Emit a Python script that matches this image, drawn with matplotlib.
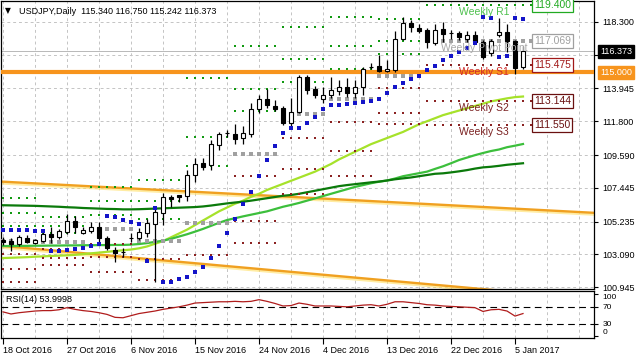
import matplotlib
matplotlib.use("Agg")
import matplotlib.pyplot as plt
import matplotlib.patheffects as pe
import numpy as np

plt.rcParams['font.family'] = ['Liberation Sans', 'DejaVu Sans']

# daily candles, 18 Oct 2016 .. 6 Jan 2017
opens = [104.00, 103.98, 103.76, 104.17, 103.85, 103.98, 104.41, 104.20, 104.57, 105.27,
         104.46, 104.63, 104.86, 104.14, 103.37, 103.25, 104.16, 104.17, 104.46, 105.05,
         105.81, 106.86, 106.97, 106.90, 108.28, 109.07, 108.94, 110.25, 111.00, 110.97,
         110.68, 110.97, 112.58, 113.24, 112.80, 112.65, 111.67, 112.43, 114.68, 113.89,
         113.24, 113.52, 113.80, 114.04, 113.67, 114.04, 115.36, 115.42, 115.09, 115.16,
         117.17, 118.21, 117.89, 117.78, 116.94, 117.82, 117.56, 117.56, 117.19, 117.45,
         117.01, 116.25, 117.45, 117.63, 117.08, 115.340]
highs = [104.25, 104.15, 104.35, 104.35, 104.10, 104.60, 104.90, 104.75, 105.70, 105.60,
         104.85, 105.20, 105.20, 104.30, 103.55, 103.50, 104.50, 104.80, 105.40, 106.10,
         107.10, 107.00, 107.00, 108.60, 109.40, 109.40, 110.60, 111.10, 111.20, 111.60,
         111.50, 113.00, 113.52, 113.89, 113.20, 112.80, 113.32, 114.83, 114.80, 114.10,
         114.06, 114.72, 114.50, 114.61, 114.50, 115.37, 115.60, 116.14, 115.81, 117.70,
         118.60, 118.43, 118.20, 117.89, 118.20, 118.30, 117.80, 117.70, 117.70, 117.70,
         117.10, 117.20, 118.54, 118.17, 117.10, 116.750]
lows = [103.70, 103.30, 103.60, 103.80, 103.75, 103.90, 103.85, 104.10, 104.40, 104.50,
        104.40, 104.50, 103.90, 103.35, 102.60, 102.90, 103.90, 104.00, 104.20, 101.30,
        105.00, 106.20, 106.50, 106.60, 107.80, 108.60, 108.60, 109.90, 110.80, 110.30,
        110.30, 110.80, 112.32, 112.65, 112.50, 111.55, 111.44, 112.34, 113.60, 113.30,
        112.98, 113.30, 113.50, 113.40, 113.30, 113.52, 115.20, 115.05, 115.05, 115.00,
        117.10, 117.67, 117.60, 116.58, 116.80, 117.00, 117.20, 117.10, 117.00, 116.90,
        115.90, 116.10, 117.34, 116.35, 114.90, 115.242]
closes = [103.90, 103.76, 104.20, 103.91, 104.02, 104.41, 104.20, 104.61, 105.27, 104.86,
          104.68, 104.86, 104.14, 103.48, 103.19, 103.24, 104.17, 104.52, 105.12, 105.88,
          106.86, 106.69, 106.86, 108.28, 108.98, 108.78, 110.29, 110.97, 111.02, 110.64,
          111.01, 112.58, 113.24, 112.86, 112.62, 111.67, 112.43, 114.68, 113.85, 113.52,
          113.52, 113.85, 114.04, 113.67, 114.04, 115.22, 115.38, 115.11, 115.22, 117.17,
          118.21, 117.95, 117.73, 117.01, 117.78, 117.51, 117.56, 117.30, 117.45, 117.01,
          116.03, 117.08, 117.63, 117.08, 115.27, 116.373]

# parabolic SAR
sar = [104.70, 104.68, 104.68, 104.68, 104.64, 104.62, 103.30, 103.30, 103.37, 103.41,
       103.52, 103.63, 103.76, 105.61, 105.50, 105.35, 105.20, 105.10, 102.67, 106.10,
       101.30, 101.30, 101.45, 101.60, 101.90, 102.24, 102.86, 103.63, 104.50, 105.40,
       106.36, 107.15, 108.20, 109.26, 110.18, 111.00, 111.34, 111.34, 111.70, 112.10,
       112.60, 112.86, 112.86, 112.90, 113.00, 113.05, 113.15, 113.26, 113.63, 114.02,
       114.30, 114.55, 114.76, 115.16, 115.42, 115.81, 116.10, 116.36, 116.62, 116.94,
       118.65, 118.55, 116.00, 116.05, 118.54, 118.50]

# moving averages
ma_fast = [102.84, 102.86, 102.88, 102.90, 102.93, 102.95, 102.98, 103.00, 103.02, 103.05,
           103.10, 103.15, 103.20, 103.25, 103.30, 103.35, 103.40, 103.48, 103.60, 103.78,
           103.95, 104.20, 104.45, 104.70, 105.00, 105.30, 105.60, 105.90, 106.15, 106.40,
           106.60, 106.85, 107.05, 107.30, 107.50, 107.70, 107.90, 108.10, 108.30, 108.50,
           108.75, 109.00, 109.30, 109.55, 109.80, 110.05, 110.30, 110.50, 110.70, 110.90,
           111.10, 111.35, 111.60, 111.80, 112.00, 112.20, 112.35, 112.50, 112.65, 112.80,
           112.95, 113.10, 113.20, 113.30, 113.38, 113.42]
ma_mid = [103.63, 103.63, 103.64, 103.64, 103.65, 103.65, 103.66, 103.66, 103.67, 103.67,
          103.68, 103.68, 103.69, 103.69, 103.70, 103.70, 103.72, 103.76, 103.82, 103.90,
          103.98, 104.10, 104.25, 104.40, 104.57, 104.75, 104.95, 105.15, 105.33, 105.45,
          105.57, 105.68, 105.79, 105.90, 106.05, 106.20, 106.32, 106.45, 106.60, 106.75,
          106.90, 107.05, 107.20, 107.35, 107.50, 107.62, 107.74, 107.84, 107.92, 108.05,
          108.20, 108.30, 108.40, 108.50, 108.68, 108.85, 109.05, 109.26, 109.42, 109.58,
          109.72, 109.85, 109.95, 110.10, 110.20, 110.31]
ma_slow = [106.30, 106.29, 106.28, 106.27, 106.26, 106.24, 106.22, 106.20, 106.17, 106.15,
           106.12, 106.10, 106.08, 106.06, 106.05, 106.03, 106.03, 106.04, 106.06, 106.08,
           106.10, 106.12, 106.14, 106.16, 106.18, 106.22, 106.28, 106.35, 106.42, 106.48,
           106.53, 106.60, 106.68, 106.76, 106.84, 106.92, 106.97, 107.05, 107.15, 107.25,
           107.35, 107.45, 107.55, 107.62, 107.68, 107.74, 107.80, 107.85, 107.92, 108.00,
           108.06, 108.12, 108.20, 108.28, 108.36, 108.39, 108.45, 108.52, 108.60, 108.70,
           108.78, 108.82, 108.88, 108.95, 109.00, 109.05]

# RSI(14)
rsi = [58, 53, 56, 58, 60, 61, 61, 63, 68, 64, 61, 59, 56, 52, 45, 44, 49, 54, 57, 60,
       64, 67, 70, 74, 79, 80, 81, 82, 82, 83, 82, 83, 87, 83, 78, 72, 73, 79, 76, 72,
       72, 72, 71, 70, 72, 74, 75, 72, 76, 82, 82, 80, 78, 75, 74, 72, 71, 70, 69, 68,
       59, 63, 64, 60, 48, 54]

# weekly pivot levels, one entry per week segment (bar index range)
seg_start = [0, 5, 11, 17, 23, 29, 35, 41, 47, 53]
seg_end = [4, 10, 16, 22, 28, 34, 40, 46, 52, 66]
r3 = [106.75, 105.53, 107.48, 107.98, 114.60, 116.75, 117.95, 118.62, 118.52, 123.30]
r2 = [105.79, 104.94, 106.59, 106.59, 110.80, 113.90, 115.90, 116.72, 117.06, 120.994]
r1 = [104.93, 104.48, 105.63, 105.38, 108.85, 112.50, 114.35, 115.20, 116.22, 119.400]
pp = [103.97, 103.89, 104.74, 103.99, 105.12, 109.64, 112.30, 113.25, 114.74, 117.069]
s1 = [103.11, 103.43, 103.78, 102.78, 103.04, 108.20, 110.72, 111.75, 113.95, 115.475]
s2 = [102.15, 102.84, 102.89, 101.39, 99.22, 105.30, 108.70, 109.85, 112.35, 113.144]
s3 = [101.30, 102.38, 101.93, 100.18, 97.14, 103.80, 107.04, 108.23, 111.62, 111.550]

# drawn objects
tl_x = [-1, 74]
tl_upper = [107.87, 105.80]
tl_lower = [103.68, 100.15]
hline_level = 115.000
bid = 116.373

date_labels = ['18 Oct 2016', '27 Oct 2016', '6 Nov 2016', '15 Nov 2016', '24 Nov 2016',
               '4 Dec 2016', '13 Dec 2016', '22 Dec 2016', '5 Jan 2017']
price_ticks = [100.945, 103.090, 105.235, 107.445, 109.590, 111.800, 113.945, 116.150, 118.300]
rsi_ticks = [0, 30, 70, 100]

W, H = 637, 358
fig = plt.figure(figsize=(W / 100, H / 100), dpi=100)


def fx(px):
    return px / W


def fy(py):
    return 1 - py / H


ax = fig.add_axes([fx(1), fy(289), fx(594) - fx(1), fy(1) - fy(289)])
rx = fig.add_axes([fx(1), fy(338), fx(594) - fx(1), fy(291) - fy(338)])

xlim = (-0.25, 73.875)
grid_kw = dict(color='#c4c4c4', lw=0.7, linestyle=(0, (3, 3)), zorder=0)
for a in (ax, rx):
    a.set_xlim(*xlim)
    for v in range(0, 74, 4):
        a.axvline(v, **grid_kw)
    for s in a.spines.values():
        s.set_linewidth(0.9)
        s.set_color('black')

ax.set_ylim(100.815, 119.675)
for t in price_ticks:
    ax.axhline(t, **grid_kw)

x = np.arange(len(opens))
o = np.array(opens)
c = np.array(closes)

# trend lines and MAs
glow = [pe.SimpleLineShadow(offset=(0, -1.3), shadow_color='#ffe066', alpha=0.6), pe.Normal()]
ax.plot(tl_x, tl_upper, color='#f0a020', lw=1.7, zorder=2, path_effects=glow)
ax.plot(tl_x, tl_lower, color='#f0a020', lw=1.7, zorder=2, path_effects=glow)
ax.plot(x, ma_fast, color='#a6e22a', lw=1.6, zorder=3)
ax.plot(x, ma_mid, color='#3cbf3c', lw=1.6, zorder=3)
ax.plot(x, ma_slow, color='#0b7a0b', lw=1.6, zorder=3)

# pivots
for k in range(len(seg_start)):
    xs = np.arange(seg_start[k], seg_end[k] + 1)
    for lev in (r3[k], r2[k], r1[k]):
        ax.scatter(xs, [lev] * len(xs), marker='s', s=2.2, color='#119911', lw=0, zorder=3)
    ax.scatter(xs, [pp[k]] * len(xs), marker='s', s=6, color='#a0a0a0', lw=0, zorder=3)
    for lev in (s1[k], s2[k], s3[k]):
        ax.scatter(xs, [lev] * len(xs), marker='s', s=2.2, color='#8b2222', lw=0, zorder=3)

ax.axhline(hline_level, color='#f7941d', lw=3, zorder=3)
ax.axhline(bid, color='#b8b8b8', lw=0.7, zorder=2)

# candles
ax.vlines(x, lows, highs, color='black', lw=0.9, zorder=4)
ax.bar(x, np.abs(c - o), bottom=np.minimum(o, c), width=0.62,
       color=np.where(c >= o, 'white', 'black'), edgecolor='black', lw=0.8, zorder=5)

ax.scatter(x, sar, marker='s', s=5, color='#1414c8', lw=0, zorder=6)

# labels of the current week's pivots
last = len(seg_start) - 1
lab = [('Weekly R1', r1[last], '#4cc04c', '#22aa22'),
       ('Weekly Pivot Point', pp[last], '#a8a8a8', '#a0a0a0'),
       ('Weekly S1', s1[last], '#d02a2a', '#a01818'),
       ('Weekly S2', s2[last], '#7a2020', '#6a1010'),
       ('Weekly S3', s3[last], '#7a2020', '#6a1010')]
for name, val, tcol, bcol in lab:
    ax.annotate(name, (60.1, val), xytext=(0, -1.5), textcoords='offset points',
                ha='center', va='top', color=tcol, fontsize=7.5, zorder=7)
    ax.annotate(f'{val:.3f}', (66.4, val), ha='left', va='center', color=bcol, fontsize=7.5,
                zorder=8, bbox=dict(boxstyle='square,pad=0.18', fc='white', ec=bcol, lw=0.9))

# right axis
ax.yaxis.tick_right()
ax.set_yticks(price_ticks, [f'{t:.3f}' if t != 116.150 else '' for t in price_ticks])
ax.tick_params(axis='y', direction='out', length=3, pad=3, labelsize=6.5, width=0.8)
ax.tick_params(axis='x', bottom=False, labelbottom=False)

ax.annotate(f'{bid:.3f}', xy=(1, bid), xycoords=('axes fraction', 'data'), xytext=(4.3, 0),
            textcoords='offset points', ha='left', va='center', color='white', fontsize=6.5,
            annotation_clip=False, bbox=dict(boxstyle='square,pad=0.2', fc='black', ec='black'))
ax.annotate(f'{hline_level:.3f}', xy=(1, hline_level), xycoords=('axes fraction', 'data'),
            xytext=(4.3, 0), textcoords='offset points', ha='left', va='center', color='white',
            fontsize=6.5, annotation_clip=False,
            bbox=dict(boxstyle='square,pad=0.2', fc='#f7941d', ec='#f7941d'))

# RSI panel
rx.set_ylim(-4.1, 107.6)
rx.plot(x, rsi, color='#b01c1c', lw=0.9, zorder=3)
rx.axhline(70, color='black', lw=0.8, dashes=(6, 4), zorder=2)
rx.axhline(30, color='black', lw=0.8, dashes=(6, 4), zorder=2)
rx.yaxis.tick_right()
rx.set_yticks(rsi_ticks, [str(t) for t in rsi_ticks])
rx.tick_params(axis='y', direction='out', length=3, pad=3, labelsize=6, width=0.8)
for lbl in rx.get_yticklabels():
    if lbl.get_text() == '0':
        lbl.set_va('bottom')
    elif lbl.get_text() == '100':
        lbl.set_va('top')
rx.set_xticks(range(0, 65, 8), date_labels, ha='left')
rx.tick_params(axis='x', direction='out', length=4, pad=2, labelsize=6.5, width=0.8)

fig.text(fx(5), fy(11), '\u25bc', fontsize=5.5, va='center', family=['DejaVu Sans'])
fig.text(fx(19), fy(11), 'USDJPY,Daily  115.340 116.750 115.242 116.373', fontsize=6.5, va='center')
fig.text(fx(6), fy(300), 'RSI(14) 53.9998', fontsize=6.5, va='center')

fig.savefig('out.png', dpi=100)
